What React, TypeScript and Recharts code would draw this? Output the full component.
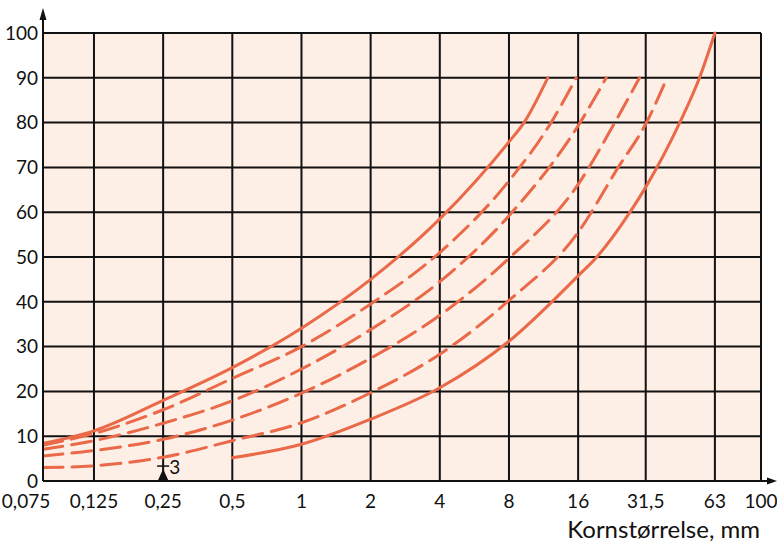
import React from 'react';
import { LineChart, Line, XAxis, YAxis, CartesianGrid, ReferenceDot } from 'recharts';

// Axis ticks
const xTicks = [0.075, 0.125, 0.25, 0.5, 1, 2, 4, 8, 16, 31.5, 63, 100];
const xTickLabels = ['0,075', '0,125', '0,25', '0,5', '1', '2', '4', '8', '16', '31,5', '63', '100'];
const yTicks = [0, 10, 20, 30, 40, 50, 60, 70, 80, 90, 100];
const xAxisTitle = 'Kornstørrelse, mm';

// Curves (grain size in mm, passing %)
const curveASizes = [0.075, 0.125, 0.25, 0.5, 1, 2, 4, 8, 9.3, 11.8];
const curveAPct = [8.4, 11.2, 18.0, 25.3, 34.1, 45.0, 58.5, 75.7, 80, 90];

const curveBSizes = [0.075, 0.125, 0.25, 0.5, 1, 2, 4, 8, 12.2, 15.7];
const curveBPct = [8.0, 10.6, 15.9, 22.9, 30.0, 39.5, 51.0, 67.0, 80, 90];

const curveCSizes = [0.075, 0.125, 0.25, 0.5, 1, 2, 4, 8, 16, 21.2];
const curveCPct = [7.1, 9.0, 12.9, 17.9, 25.0, 33.8, 44.5, 59.2, 79.3, 90];

const curveDSizes = [0.075, 0.125, 0.25, 0.5, 1, 2, 4, 8, 16, 23.1, 29.6];
const curveDPct = [5.6, 6.8, 9.3, 13.6, 19.6, 27.4, 37.0, 49.7, 66.2, 80, 90];

const curveESizes = [0.075, 0.125, 0.25, 0.5, 1, 2, 4, 8, 16, 23.9, 31.5, 39];
const curveEPct = [3.0, 3.4, 5.3, 9.0, 13.0, 19.7, 28.3, 40.3, 55.5, 70, 79.7, 90];

const curveFSizes = [0.5, 1, 2, 4, 8, 16, 19.3, 26.9, 31.5, 44.3, 54, 63];
const curveFPct = [5.2, 8.2, 13.8, 20.8, 31.2, 45.8, 50, 60, 65.6, 80, 90, 100];

// Marker on the x axis
const markerSize = 0.25;
const markerPct = 3;
const markerLabel = '3';

const toPoints = (xs: number[], ys: number[]) => xs.map((x, i) => ({ x, y: ys[i] }));

const LINE_COLOR = '#EA6948';
const FONT = 'Lato, "Open Sans", sans-serif';
const INK = '#111';

const XTick = (props: any) => {
  const { x, y, payload } = props;
  const i = xTicks.indexOf(payload.value);
  const label = i >= 0 ? xTickLabels[i] : String(payload.value);
  const shift = i === 0 ? -17 : 0;
  return (
    <text x={x + shift} y={y} dy="0.71em" textAnchor="middle" fill={INK} fontSize={19} fontFamily={FONT}>
      {label}
    </text>
  );
};

const YArrow = (props: any) => {
  const vb = props.viewBox || { x: 0, y: 33, width: 43, height: 448 };
  const ax = vb.x + vb.width;
  const top = vb.y;
  return (
    <g>
      <line x1={ax} y1={top} x2={ax} y2={top - 16} stroke={INK} strokeWidth={2} />
      <polygon points={`${ax},${top - 25} ${ax - 3.5},${top - 13} ${ax + 3.5},${top - 13}`} fill={INK} />
    </g>
  );
};

const XArrowAndTitle = (props: any) => {
  const vb = props.viewBox || { x: 43, y: 481, width: 718, height: 61 };
  const right = vb.x + vb.width;
  const ay = vb.y;
  return (
    <g>
      <line x1={right} y1={ay} x2={right + 8} y2={ay} stroke={INK} strokeWidth={2} />
      <polygon points={`${right + 16},${ay} ${right + 6},${ay - 3.5} ${right + 6},${ay + 3.5}`} fill={INK} />
      <text x={right - 1} y={vb.y + vb.height - 4} textAnchor="end" fill={INK} fontSize={24} fontFamily={FONT}>
        {xAxisTitle}
      </text>
    </g>
  );
};

const Triangle = (props: any) => {
  const { cx, cy } = props;
  if (cx == null || cy == null) return null;
  return <polygon points={`${cx},${cy - 12} ${cx - 5.5},${cy} ${cx + 5.5},${cy}`} fill={INK} />;
};

const MarkerTick = (props: any) => {
  const { cx, cy } = props;
  if (cx == null || cy == null) return null;
  return (
    <g>
      <line x1={cx - 6} y1={cy - 1.5} x2={cx + 6} y2={cy - 1.5} stroke={INK} strokeWidth={1.5} />
      <text x={cx + 6} y={cy + 6} fill={INK} fontSize={19} fontFamily={FONT}>
        {markerLabel}
      </text>
    </g>
  );
};

export default function App() {
  const curves = [
    { key: 'A', data: toPoints(curveASizes, curveAPct), dash: undefined },
    { key: 'B', data: toPoints(curveBSizes, curveBPct), dash: '20 9' },
    { key: 'C', data: toPoints(curveCSizes, curveCPct), dash: '20 9' },
    { key: 'D', data: toPoints(curveDSizes, curveDPct), dash: '20 9' },
    { key: 'E', data: toPoints(curveESizes, curveEPct), dash: '20 9' },
    { key: 'F', data: toPoints(curveFSizes, curveFPct), dash: undefined },
  ];
  return (
    <div style={{ position: 'absolute', left: 0, top: 0, width: 777, height: 542, background: '#fff' }}>
      <LineChart width={777} height={542} margin={{ top: 33, right: 16, bottom: 0, left: 0 }}>
        <CartesianGrid stroke={INK} strokeWidth={2} fill="#FDEEE6" fillOpacity={1} />
        <XAxis
          type="number"
          dataKey="x"
          scale="log"
          domain={[0.075, 100]}
          ticks={xTicks}
          allowDataOverflow
          height={61}
          tickSize={0}
          tickMargin={14}
          tickLine={false}
          axisLine={{ stroke: INK, strokeWidth: 2 }}
          tick={<XTick />}
          interval={0}
          label={<XArrowAndTitle />}
        />
        <YAxis
          type="number"
          domain={[0, 100]}
          ticks={yTicks}
          width={43}
          tickSize={0}
          tickMargin={5}
          tickLine={false}
          axisLine={{ stroke: INK, strokeWidth: 2 }}
          tick={{ fill: INK, fontSize: 19, fontFamily: FONT }}
          interval={0}
          label={<YArrow />}
        />
        {curves.map((c) => (
          <Line
            key={c.key}
            data={c.data}
            dataKey="y"
            type="monotone"
            stroke={LINE_COLOR}
            strokeWidth={3}
            strokeDasharray={c.dash}
            strokeLinecap="round"
            dot={false}
            activeDot={false}
            isAnimationActive={false}
          />
        ))}
        <ReferenceDot x={markerSize} y={0} r={6} shape={<Triangle />} ifOverflow="visible" />
        <ReferenceDot x={markerSize} y={markerPct} r={6} shape={<MarkerTick />} ifOverflow="visible" />
      </LineChart>
    </div>
  );
}
